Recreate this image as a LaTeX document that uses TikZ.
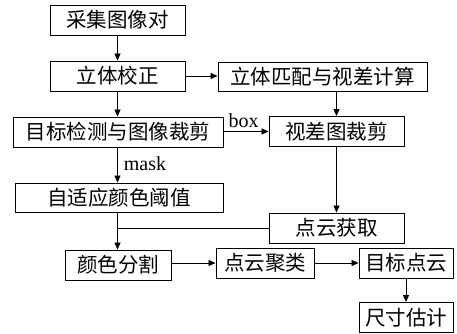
\documentclass[tikz,border=0pt]{standalone}
\usepackage{fontspec}
\setmainfont{Liberation Serif}
\newfontfamily\cjk{Noto Sans CJK SC}
\usetikzlibrary{arrows.meta}
\begin{document}
\begin{tikzpicture}[x=1pt,y=-1pt,
  bx/.style={draw,line width=0.9pt,inner sep=0pt,minimum height=30pt,font=\cjk\fontsize{20.5}{20.5}\selectfont},
  ar/.style={line width=0.8pt,-{Triangle[length=7pt,width=6pt]}},
  ln/.style={line width=0.8pt},
  lab/.style={font=\fontsize{20}{20}\selectfont,inner sep=0pt}]
\useasboundingbox (0,0) rectangle (457,333);
\node[bx,minimum width=135pt] (n1) at (117.5,20) {采集图像对};
\node[bx,minimum width=135pt] (n2) at (117.5,76) {立体校正};
\node[bx,minimum width=209pt,minimum height=29pt] (n3) at (322.5,76.5) {立体匹配与视差计算};
\node[bx,minimum width=210pt] (n4) at (118,132) {目标检测与图像裁剪};
\node[bx,minimum width=135pt] (n5) at (336.5,131.5) {视差图裁剪};
\node[bx,minimum width=208pt,minimum height=29pt] (n6) at (119,197.5) {自适应颜色阈值};
\node[bx,minimum width=135pt] (n7) at (336.5,228) {点云获取};
\node[bx,minimum width=106pt] (n8) at (118,265) {颜色分割};
\node[bx,minimum width=98pt] (n9) at (265,263) {点云聚类};
\node[bx,minimum width=94pt] (n10) at (406,263) {目标点云};
\node[bx,minimum width=94pt] (n11) at (406,317.5) {尺寸估计};
\draw[ar] (n1.south) -- (n2.north);
\draw[ar] (n2.east) -- (n2.east -| n3.west);
\draw[ar] (n2.south) -- (n2.south |- n4.north);
\draw[ar] (n3.south -| n5.north) -- (n5.north);
\draw[ar] (n4.east |- n5.west) -- (n5.west) node[lab,pos=0.45,above=3pt] (lb) {box};
\draw[ar] (n4.south -| n2.south) -- (n2.south |- n6.north) node[lab,pos=0.45,right=6pt] (lm) {mask};
\draw[ar] (n5.south) -- (n7.north);
\draw[ar] (n6.south -| n2.south) -- (n2.south |- n8.north);
\draw[ln] (n7.west) -- (n7.west -| n2.south);
\draw[ar] (n8.east |- n9.west) -- (n9.west);
\draw[ar] (n9.east) -- (n10.west);
\draw[ar] (n10.south) -- (n11.north);
\end{tikzpicture}
\end{document}
